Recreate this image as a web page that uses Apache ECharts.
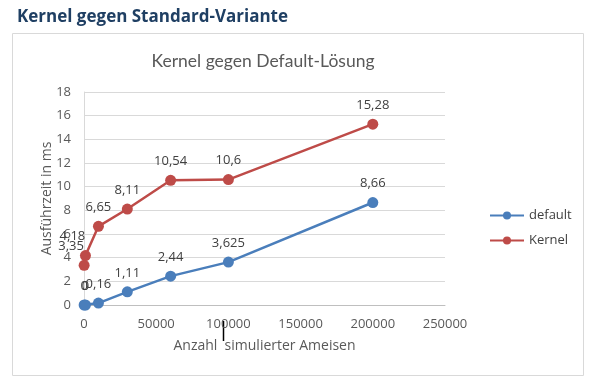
<!DOCTYPE html>
<html>
<head>
<meta charset="utf-8">
<script src="https://cdn.jsdelivr.net/npm/echarts@6/dist/echarts.min.js"></script>
<style>
html,body{margin:0;padding:0;background:#fff;}
#c{width:600px;height:383px;}
</style>
</head>
<body>
<div id="c"></div>
<script>
var xValues = [100, 1000, 10000, 30000, 60000, 100000, 200000];
var defaultValues = [0, 0, 0.16, 1.11, 2.44, 3.625, 8.66];
var kernelValues = [3.35, 4.18, 6.65, 8.11, 10.54, 10.6, 15.28];
var seriesNames = ['default', 'Kernel'];
var pageTitle = 'Kernel gegen Standard-Variante';
var chartTitle = 'Kernel gegen Default-Lösung';
var xAxisName = 'Anzahl  simulierter Ameisen';
var yAxisName = 'Ausführzeit in ms';

function fmt(v){ return String(v).replace('.', ','); }
function pairs(vals, offsets){
  return xValues.map(function(x,i){
    var d = {value:[x, vals[i]]};
    if (offsets && offsets[i]) d.label = {offset: offsets[i]};
    return d;
  });
}
var kernelOffsets = [[-13, 0], [-13, 0]];
var labelStyle = {show:true, position:'top', distance:7, color:'#404040', fontSize:13, fontFamily:'Open Sans',
  formatter:function(p){ return fmt(p.value[1]); }};

var chart = echarts.init(document.getElementById('c'));
chart.setOption({
  animation:false,
  textStyle:{fontFamily:'Open Sans'},
  title:[
    {text:pageTitle, left:12, top:4, textStyle:{fontSize:17, fontWeight:'bold', color:'#1f3f63', fontFamily:'Open Sans'}},
    {text:chartTitle, left:258, textAlign:'center', top:47, textStyle:{fontSize:17.5, fontWeight:'normal', color:'#595959', fontFamily:'Lato'}}
  ],
  graphic:[
    {type:'rect', shape:{x:12.5, y:33.5, width:571, height:342}, style:{fill:null, stroke:'#d9d9d9', lineWidth:1}, silent:true, z:-1},
    {type:'line', shape:{x1:223.5, y1:321, x2:223.5, y2:341}, style:{stroke:'#000', lineWidth:1.5}}
  ],
  legend:{
    orient:'vertical', left:484, top:204, itemGap:12, itemWidth:34, itemHeight:10,
    textStyle:{color:'#404040', fontSize:13, fontFamily:'Open Sans'},
    data:seriesNames
  },
  grid:{left:84, right:155, top:92, bottom:78},
  xAxis:{
    type:'value', min:0, max:250000, interval:50000,
    name:xAxisName, nameLocation:'middle', nameGap:34, nameMoveOverlap:false,
    nameTextStyle:{color:'#595959', fontSize:14, fontFamily:'Open Sans'},
    axisLine:{show:true, lineStyle:{color:'#bfbfbf'}},
    axisTick:{show:false},
    splitLine:{show:false},
    axisLabel:{color:'#595959', fontSize:13, margin:13, fontFamily:'Open Sans',
      formatter:function(v){ return String(v); }}
  },
  yAxis:{
    type:'value', min:0, max:18, interval:2,
    name:yAxisName, nameLocation:'middle', nameGap:30, nameMoveOverlap:false,
    nameTextStyle:{color:'#595959', fontSize:14, fontFamily:'Open Sans'},
    axisLine:{show:true, lineStyle:{color:'#d9d9d9'}},
    axisTick:{show:false},
    splitLine:{lineStyle:{color:'#d9d9d9'}},
    axisLabel:{color:'#595959', fontSize:13, margin:13, fontFamily:'Open Sans'}
  },
  series:[
    {name:seriesNames[0], type:'line', data:pairs(defaultValues), symbol:'circle', symbolSize:11,
      itemStyle:{color:'#4a7ebb'}, lineStyle:{width:2.5, color:'#4a7ebb'}, label:labelStyle},
    {name:seriesNames[1], type:'line', data:pairs(kernelValues, kernelOffsets), symbol:'circle', symbolSize:11,
      itemStyle:{color:'#be4b48'}, lineStyle:{width:2.5, color:'#be4b48'}, label:labelStyle}
  ]
});
</script>
</body>
</html>
